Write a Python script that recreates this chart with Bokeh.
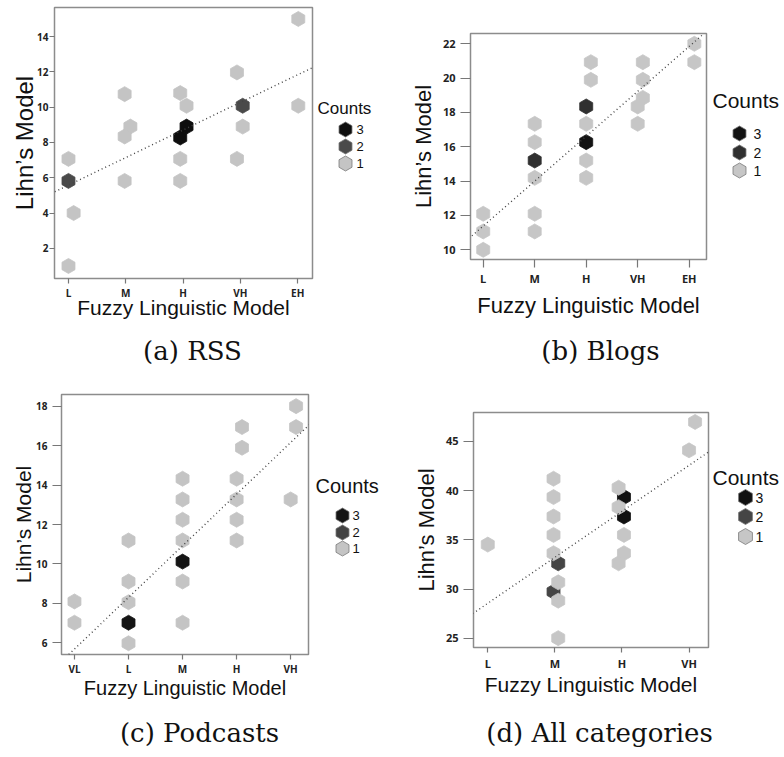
import numpy as np
from bokeh.plotting import figure
from bokeh.models import FixedTicker, Slope, Range1d
from bokeh.layouts import row, column
from bokeh.core.properties import value
from bokeh.embed import file_html
from bokeh.resources import INLINE

# ---------------- data ----------------
count_levels = [3, 2, 1]

# (a) RSS
cats_a = ["L", "M", "H", "VH", "EH"]
x_a = [1.0, 1.0, 1.09, 1.0, 1.98, 2.08, 1.98, 1.98, 2.95, 3.06, 3.06, 2.95, 2.95, 2.95,
       3.94, 4.04, 4.04, 3.94, 5.01, 5.01]
y_a = [7.07, 5.82, 4.0, 1.0, 10.74, 8.9, 8.34, 5.82, 10.8, 10.08, 8.9, 8.28, 7.07, 5.82,
       11.97, 10.08, 8.9, 7.07, 15.0, 10.08]
n_a = [1, 2, 1, 1, 1, 1, 1, 1, 1, 1, 3, 3, 1, 1, 1, 2, 1, 1, 1, 1]
fit_a = (1.564, 4.018)
yticks_a = [2, 4, 6, 8, 10, 12, 14]

# (b) Blogs
cats_b = ["L", "M", "H", "VH", "EH"]
x_b = [1.0, 1.0, 1.0, 2.0, 2.0, 2.0, 2.0, 2.0, 2.0, 3.09, 3.09, 3.0, 3.0, 3.0, 3.0, 3.0,
       4.1, 4.1, 4.1, 4.0, 4.0, 5.1, 5.1]
y_b = [12.1, 11.07, 10.0, 17.34, 16.27, 15.2, 14.19, 12.1, 11.07, 20.93, 19.9, 18.35, 17.34,
       16.27, 15.2, 14.19, 20.93, 19.9, 18.85, 18.35, 17.34, 22.0, 20.93]
n_b = [1, 1, 1, 1, 1, 2, 1, 1, 1, 1, 1, 2, 1, 3, 1, 1, 1, 1, 1, 1, 1, 1, 1]
fit_b = (2.615, 8.77)
yticks_b = [10, 12, 14, 16, 18, 20, 22]

# (c) Podcasts
cats_c = ["VL", "L", "M", "H", "VH"]
x_c = [1.0, 1.0, 2.0, 2.0, 2.0, 2.0, 2.0, 3.0, 3.0, 3.0, 3.0, 3.0, 3.0, 3.0,
       4.1, 4.1, 4.0, 4.0, 4.0, 4.0, 5.1, 5.1, 5.0]
y_c = [8.1, 7.02, 11.19, 9.11, 8.06, 7.02, 5.98, 14.32, 13.27, 12.24, 11.19, 10.12, 9.11, 7.02,
       16.94, 15.89, 14.32, 13.27, 12.24, 11.19, 18.0, 16.94, 13.27]
n_c = [1, 1, 1, 1, 1, 3, 1, 1, 1, 1, 1, 3, 1, 1, 1, 1, 1, 1, 1, 1, 1, 1, 1]
fit_c = (2.617, 3.07)
yticks_c = [6, 8, 10, 12, 14, 16, 18]

# (d) All categories
cats_d = ["L", "M", "H", "VH"]
x_d = [1.0, 1.98, 1.98, 1.98, 1.98, 1.98, 2.05, 2.05, 1.98, 2.05, 2.05,
       2.95, 3.03, 2.95, 3.03, 3.03, 3.03, 2.95, 4.09, 4.0]
y_d = [34.52, 41.2, 39.34, 37.37, 35.5, 33.64, 32.62, 30.69, 29.74, 28.83, 25.03,
       40.29, 39.34, 38.32, 37.37, 35.5, 33.64, 32.62, 46.96, 44.08]
n_d = [1, 1, 1, 1, 1, 1, 2, 1, 2, 1, 1, 1, 3, 1, 3, 1, 1, 1, 1, 1]
fit_d = (4.665, 23.9)
yticks_d = [25, 30, 35, 40, 45]

x_title = "Fuzzy Linguistic Model"
y_title = "Lihn\u2019s Model"
legend_title = "Counts"
captions = ["(a) RSS", "(b) Blogs", "(c) Podcasts", "(d) All categories"]


def blank(w, h):
    p = figure(width=w, height=h, x_range=Range1d(0, w), y_range=Range1d(h, 0),
               x_axis_type=None, y_axis_type=None, output_backend="svg",
               toolbar_location=None, min_border=0)
    p.grid.visible = False
    p.outline_line_color = None
    p.background_fill_color = "white"
    p.border_fill_color = "white"
    return p


def make_panel(cats, xs, ys, ns, fit, yticks, cfg):
    p = figure(width=cfg["W"], height=cfg["H"],
               x_range=Range1d(*cfg["xr"]), y_range=Range1d(*cfg["yr"]),
               output_backend="svg", toolbar_location=None,
               min_border_left=cfg["left"], min_border_right=2,
               min_border_top=cfg["top"], min_border_bottom=cfg["bottom"])
    p.grid.visible = False
    p.outline_line_color = "#8c8c8c"
    p.outline_line_width = 1.5
    p.background_fill_color = "white"
    p.border_fill_color = "white"

    xs = np.array(xs)
    ys = np.array(ys)
    ns = np.array(ns)
    for k in count_levels:
        m = ns == k
        col = cfg["pal"][k]
        p.scatter(xs[m], ys[m], marker="hex", size=cfg["hex"], angle=np.pi / 2,
                  fill_color=col, line_color=col, line_width=0.8)

    p.add_layout(Slope(gradient=fit[0], y_intercept=fit[1], line_color="#444444",
                       line_width=1.4, line_dash="1 3"))

    xa = p.xaxis[0]
    xa.ticker = FixedTicker(ticks=list(range(1, len(cats) + 1)), minor_ticks=[])
    xa.major_label_overrides = {i + 1: c for i, c in enumerate(cats)}
    ya = p.yaxis[0]
    ya.ticker = FixedTicker(ticks=yticks, minor_ticks=[])
    for ax, tout, tst, lst in ((xa, cfg["xto"], cfg["xts"], cfg["xls"]),
                               (ya, cfg["yto"], cfg["yts"], cfg["yls"])):
        ax.axis_line_color = None
        ax.major_tick_in = 0
        ax.major_tick_out = tout
        ax.major_tick_line_color = "#777777"
        ax.major_tick_line_width = 1.2
        ax.minor_tick_line_color = None
        ax.major_label_standoff = tst
        ax.major_label_text_font = "Open Sans"
        ax.major_label_text_font_style = "bold"
        ax.major_label_text_font_size = f"{cfg['tick']}px"
        ax.major_label_text_color = "#222222"
        ax.axis_label_standoff = lst
        ax.axis_label_text_font = "Liberation Sans"
        ax.axis_label_text_font_style = "normal"
        ax.axis_label_text_color = "#111111"
    xa.axis_label = x_title
    xa.axis_label_text_font_size = f"{cfg['xlab']}px"
    ya.axis_label = y_title
    ya.axis_label_text_font_size = f"{cfg['ylab']}px"
    return p


def make_legend(cfg):
    lg = cfg["leg"]
    p = blank(lg["w"], cfg["H"])
    p.text(x=[lg["tx"]], y=[lg["ty"]], text=[legend_title],
           text_font=value("Liberation Sans"), text_font_size=f"{lg['tfont']}px",
           text_align="left", text_baseline="middle", text_color="#111111")
    p.scatter(x=[lg["hx"]] * len(count_levels), y=lg["hy"], marker="hex",
              size=lg["hs"], angle=np.pi / 2,
              fill_color=[cfg["pal"][k] for k in count_levels],
              line_color="#7a7a7a", line_width=0.8)
    p.text(x=[lg["lx"]] * len(count_levels), y=lg["hy"], text=[str(k) for k in count_levels],
           text_font=value("Liberation Sans"), text_font_size=f"{lg['lfont']}px",
           text_align="left", text_baseline="middle", text_color="#111111")
    return p


def make_caption(text, w, h, cx, cy):
    p = blank(w, h)
    p.text(x=[cx], y=[cy], text=[text], text_font=value("DejaVu Serif"),
           text_font_size="26px", text_align="center", text_baseline="middle",
           text_color="#111111")
    return p


cfg_a = dict(W=314, H=330, left=54, top=7, bottom=52,
             xr=(0.756, 5.258), yr=(0.29, 15.65), hex=15,
             pal={3: "#0e0e0e", 2: "#4a4a4a", 1: "#c4c4c4"},
             tick=10, xto=5, xts=2, xls=-7, yto=5, yts=1, yls=-4, xlab=21, ylab=24,
             leg=dict(w=78, tx=3, ty=108, hx=31, hy=[129, 146, 163], lx=42,
                      hs=15, tfont=17, lfont=13))
cfg_b = dict(W=316, H=330, left=78, top=33, bottom=71,
             xr=(0.753, 5.336), yr=(9.435, 22.6), hex=15,
             pal={3: "#131313", 2: "#303030", 1: "#c6c6c6"},
             tick=11, xto=8, xts=3, xls=4, yto=10, yts=5, yls=4, xlab=22, ylab=22,
             leg=dict(w=76, tx=4, ty=100, hx=31, hy=[133, 152, 170], lx=45,
                      hs=15, tfont=21, lfont=14))
cfg_c = dict(W=310, H=340, left=61, top=22, bottom=58,
             xr=(0.76, 5.33), yr=(5.41, 18.59), hex=15,
             pal={3: "#151515", 2: "#434343", 1: "#c4c4c4"},
             tick=10, xto=5, xts=2, xls=-2, yto=9, yts=5, yls=-2, xlab=20, ylab=21,
             leg=dict(w=82, tx=5, ty=113, hx=32, hy=[143, 160, 176], lx=42,
                      hs=15, tfont=20, lfont=13))
cfg_d = dict(W=318, H=340, left=81, top=40, bottom=65,
             xr=(0.787, 4.29), yr=(24.08, 47.92), hex=15,
             pal={3: "#111111", 2: "#454545", 1: "#c6c6c6"},
             tick=11, xto=5, xts=3, xls=-1, yto=10, yts=5, yls=4, xlab=21, ylab=22,
             leg=dict(w=74, tx=2, ty=105, hx=35, hy=[125, 144, 164], lx=45,
                      hs=16, tfont=21, lfont=14))

pa = make_panel(cats_a, x_a, y_a, n_a, fit_a, yticks_a, cfg_a)
pb = make_panel(cats_b, x_b, y_b, n_b, fit_b, yticks_b, cfg_b)
pc = make_panel(cats_c, x_c, y_c, n_c, fit_c, yticks_c, cfg_c)
pd = make_panel(cats_d, x_d, y_d, n_d, fit_d, yticks_d, cfg_d)


def wrap(*figs):
    return row(*[column(f) for f in figs])


layout = column(
    wrap(pa, make_legend(cfg_a), pb, make_legend(cfg_b)),
    wrap(make_caption(captions[0], 392, 42, 192, 20), make_caption(captions[1], 392, 42, 208, 20)),
    wrap(pc, make_legend(cfg_c), pd, make_legend(cfg_d)),
    wrap(make_caption(captions[2], 392, 45, 199, 20), make_caption(captions[3], 392, 45, 207, 20)),
)
open("out.html", "w").write(file_html(layout, INLINE))
